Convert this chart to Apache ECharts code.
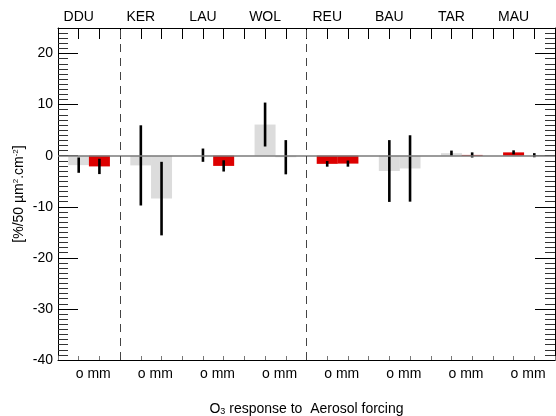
<!DOCTYPE html>
<html>
<head>
<meta charset="utf-8">
<script src="https://cdn.jsdelivr.net/npm/echarts@6/dist/echarts.min.js"></script>
<style>
  html, body { margin: 0; padding: 0; background: #fff; }
  #chart { width: 556px; height: 416px; }
</style>
</head>
<body>
<div id="chart"></div>
<script>
// Stations, each with an "o" and an "mm" bar
const stations = ['DDU', 'KER', 'LAU', 'WOL', 'REU', 'BAU', 'TAR', 'MAU'];
const pairLabels = ['o', 'mm'];

// O3 response (%/50 µm².cm⁻²) and one-sigma spread for each bar
const oValues  = [-1.85, -1.9, 0.1, 6.1, -1.6, -3.0, 0.5, 0.65];
const oErr     = [1.5, 7.85, 1.3, 4.3, 0.55, 6.05, 0.5, 0.4];
const oSig     = [false, false, false, false, true, false, false, true];
const mmValues = [-2.1, -8.4, -2.0, -0.3, -1.55, -2.5, 0.15, 0.1];
const mmErr    = [1.5, 7.2, 1.1, 3.35, 0.6, 6.5, 0.5, 0.4];
const mmSig    = [true, false, true, false, true, false, true, false];

// Group borders drawn as dashed dividers (index of the station they follow)
const dividersAfter = [0, 3];

const yTicks = { min: -40, max: 25, step: 10 };

const FONT = "'Liberation Sans', Arial, Helvetica, sans-serif";
const GREY = '#dcdcdc';
const RED = '#dd0000';
const SLOTS = stations.length * 3;

const bars = [];
const errors = [];
stations.forEach((s, g) => {
  const x1 = g * 3 + 1, x2 = g * 3 + 2;
  bars.push({ value: [x1, oValues[g]], itemStyle: { color: oSig[g] ? RED : GREY } });
  bars.push({ value: [x2, mmValues[g]], itemStyle: { color: mmSig[g] ? RED : GREY } });
  errors.push([x1, oValues[g] - oErr[g], oValues[g] + oErr[g]]);
  errors.push([x2, mmValues[g] - mmErr[g], mmValues[g] + mmErr[g]]);
});

const chart = echarts.init(document.getElementById('chart'), null, { renderer: 'canvas' });

const axisBase = {
  type: 'value',
  min: 0,
  max: SLOTS,
  interval: 1,
  splitLine: { show: false },
  axisLine: { show: true, onZero: false, lineStyle: { color: '#000', width: 1 } }
};

const yBase = {
  type: 'value',
  min: yTicks.min,
  max: yTicks.max,
  interval: yTicks.step,
  splitLine: { show: false },
  axisLine: { show: true, onZero: false, lineStyle: { color: '#000', width: 1 } },
  axisTick: { show: true, inside: true, length: 20, lineStyle: { color: '#000', width: 1 } },
  minorTick: { show: true, splitNumber: 10, length: 10, lineStyle: { color: '#333', width: 1 } },
  minorSplitLine: { show: false }
};

chart.setOption({
  animation: false,
  backgroundColor: '#fff',
  textStyle: { fontFamily: FONT },
  grid: { left: 58, right: 1, top: 28, bottom: 56, containLabel: false, outerBoundsMode: 'none' },
  xAxis: [
    Object.assign({}, axisBase, {
      position: 'bottom',
      axisTick: { show: true, inside: true, length: 4, lineStyle: { color: '#777', width: 1 } },
      axisLabel: {
        show: true,
        margin: 7,
        color: '#000',
        fontSize: 14,
        fontFamily: FONT,
        showMinLabel: true,
        showMaxLabel: true,
        formatter: v => (v % 3 === 1 ? '{a|' + pairLabels.join(' ') + '}' : ''),
        rich: { a: { fontSize: 14, fontFamily: FONT, color: '#000', padding: [0, 0, 0, 29] } }
      },
      name: 'O{sub|3} response to  Aerosol forcing',
      nameLocation: 'middle',
      nameGap: 42,
      nameMoveOverlap: false,
      nameTextStyle: {
        color: '#000',
        fontSize: 14,
        fontFamily: FONT,
        rich: {
          sub: { fontSize: 9, fontFamily: FONT, color: '#000', verticalAlign: 'bottom', padding: [4, 0, 0, 0] }
        }
      }
    }),
    Object.assign({}, axisBase, {
      position: 'top',
      axisTick: { show: true, inside: true, length: 11, lineStyle: { color: '#000', width: 1 } },
      axisLabel: {
        show: true,
        margin: 4,
        color: '#000',
        fontSize: 14,
        fontFamily: FONT,
        showMinLabel: true,
        showMaxLabel: true,
        formatter: v => (v % 3 === 1 ? stations[(v - 1) / 3] : '')
      }
    })
  ],
  yAxis: [
    Object.assign({}, yBase, {
      position: 'left',
      axisLabel: { show: true, margin: 5, color: '#000', fontSize: 14, fontFamily: FONT, showMaxLabel: false },
      name: '[%/50 µm{sup|2}.cm{sup|-2}]',
      nameLocation: 'middle',
      nameRotate: 90,
      nameGap: 32,
      nameMoveOverlap: false,
      nameTextStyle: {
        color: '#000',
        fontSize: 14,
        fontFamily: FONT,
        rich: {
          sup: { fontSize: 8, fontFamily: FONT, color: '#000', verticalAlign: 'top', padding: [0, 0, 4, 0] }
        }
      }
    }),
    Object.assign({}, yBase, {
      position: 'right',
      axisLabel: { show: false }
    })
  ],
  series: [
    {
      type: 'bar',
      xAxisIndex: 0,
      yAxisIndex: 0,
      barWidth: 21,
      barGap: '-100%',
      data: bars,
      z: 2,
      silent: true
    },
    {
      // zero line and dashed group dividers
      type: 'line',
      xAxisIndex: 0,
      yAxisIndex: 0,
      data: [],
      silent: true,
      z: 3,
      markLine: {
        silent: true,
        symbol: 'none',
        label: { show: false },
        animation: false,
        data: [
          { yAxis: 0, lineStyle: { color: '#7a7a7a', width: 1.6, type: 'solid' } }
        ].concat(dividersAfter.map(g => ({
          xAxis: (g + 1) * 3,
          lineStyle: { color: '#444', width: 1, type: [8, 6] }
        })))
      }
    },
    {
      // error bars
      type: 'custom',
      xAxisIndex: 0,
      yAxisIndex: 0,
      z: 4,
      silent: true,
      data: errors,
      renderItem: (params, api) => {
        const p1 = api.coord([api.value(0), api.value(1)]);
        const p2 = api.coord([api.value(0), api.value(2)]);
        return {
          type: 'line',
          shape: { x1: p1[0], y1: p1[1], x2: p2[0], y2: p2[1] },
          style: { stroke: '#000', lineWidth: 2.6 }
        };
      }
    }
  ]
});
</script>
</body>
</html>
